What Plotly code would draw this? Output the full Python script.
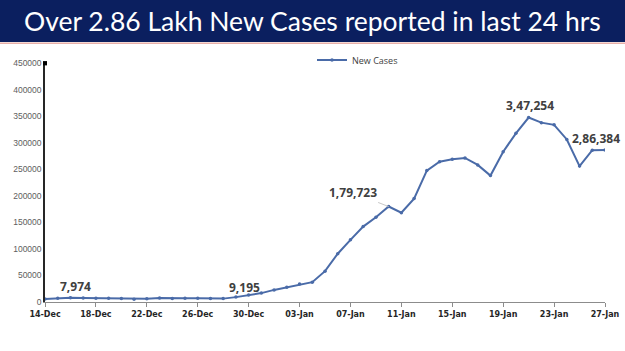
import plotly.graph_objects as go
import pandas as pd

dates = pd.date_range("2021-12-14", "2022-01-27", freq="D").strftime("%Y-%m-%d").tolist()
new_cases = [5784, 6984, 7974, 7447, 7145, 7081, 6563, 5326, 6317, 7495, 6650, 7189, 6987, 6531, 6358,
             9195, 13154, 16764, 22775, 27553, 33750, 37379, 58097, 90928, 117100, 141986, 159632,
             179723, 168063, 194720, 247417, 264202, 268833, 271202, 258089, 238018, 282970, 317532,
             347254, 337704, 333533, 306064, 255874, 285914, 286384]
tick_dates = dates[::4]
tick_labels = [pd.Timestamp(d).strftime("%d-%b") for d in tick_dates]
y_ticks = list(range(0, 450001, 50000))

labels = [("2021-12-16", 7974, "7,974", 5, -11),
          ("2021-12-29", 9195, "9,195", 9, -10),
          ("2022-01-10", 179723, "1,79,723", -36, -14),
          ("2022-01-21", 347254, "3,47,254", 1, -12),
          ("2022-01-27", 286384, "2,86,384", -9, -11)]

fig = go.Figure()
fig.add_trace(go.Scatter(x=dates, y=new_cases, mode="lines+markers", name="New Cases",
                         line=dict(color="#4a6ba8", width=2),
                         marker=dict(size=3.5, color="#4a6ba8")))

for d, v, t, ax, ay in labels:
    lead = t == "1,79,723"
    fig.add_annotation(x=d, y=v, text=t, showarrow=True, ax=ax, ay=ay,
                       arrowhead=0, arrowwidth=1,
                       arrowcolor="#c8c8c8" if lead else "rgba(0,0,0,0)",
                       font=dict(family="Open Sans", size=12, color="#404040", weight="bold"))

# banner
fig.add_shape(type="rect", xref="paper", yref="paper", x0=-0.1, x1=1.1, y0=1.088, y1=1.3,
              fillcolor="#0b1f5f", line_width=0, layer="above")
fig.add_shape(type="line", xref="paper", yref="paper", x0=-0.1, x1=1.1, y0=1.083, y1=1.083,
              line=dict(color="#e8b0a8", width=1.5))
fig.add_annotation(xref="paper", yref="paper", x=(312.5 - 45) / 560, y=(302 - 21) / 239,
                   text="Over 2.86 Lakh New Cases reported in last 24 hrs", showarrow=False,
                   xanchor="center", yanchor="middle",
                   font=dict(family="Lato", size=26.5, color="white"))
# y-axis top marker
fig.add_shape(type="rect", xref="paper", yref="paper", x0=-0.0036, x1=0.0036, y0=0.99, y1=1.008,
              fillcolor="black", line_width=0)

fig.update_layout(
    width=625, height=351, margin=dict(l=45, r=20, t=63, b=49, autoexpand=False),
    paper_bgcolor="white", plot_bgcolor="white",
    showlegend=True,
    legend=dict(x=(312 - 45) / 560, y=(302 - 60) / 239, xanchor="left", yanchor="middle",
                font=dict(family="Open Sans", size=9, color="#404040"), bgcolor="rgba(0,0,0,0)"),
    xaxis=dict(type="date", range=[dates[0], dates[-1]], tickvals=tick_dates, ticktext=tick_labels,
               showgrid=False, showline=True, linecolor="#8c8c8c", linewidth=1,
               ticks="outside", ticklen=4, tickcolor="#8c8c8c", automargin=False,
               tickfont=dict(family="DejaVu Sans", size=8, color="#262626", weight="bold"),
               zeroline=False),
    yaxis=dict(range=[0, 450000], tickvals=y_ticks, ticktext=[str(v) for v in y_ticks],
               showgrid=False, showline=True, linecolor="#262626", linewidth=1.5,
               ticks="", automargin=False,
               tickfont=dict(family="Liberation Sans", size=8.5, color="#606060"),
               zeroline=False),
)

fig.write_html("out.html")
